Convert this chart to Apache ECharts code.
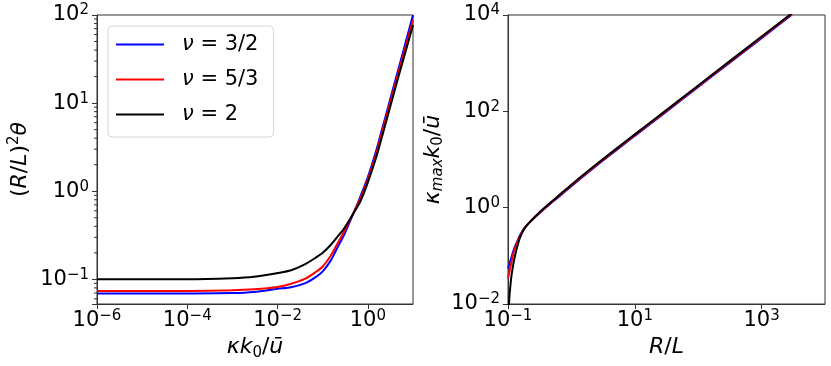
<!DOCTYPE html>
<html><head><meta charset="utf-8">
<script src="https://cdn.jsdelivr.net/npm/echarts@6/dist/echarts.min.js"></script>
<style>html,body{margin:0;padding:0;background:#fff}#c{width:831px;height:366px}</style>
</head><body><div id="c"></div>
<script>
// ---- data ----
const seriesNames = ['ν = 3/2', 'ν = 5/3', 'ν = 2'];

// left panel: (R/L)^2 θ vs κ k0 / ū
const leftX = [1e-6, 1e-5, 1e-4, 1e-3, 3e-3, 1e-2, 2e-2, 4e-2, 7e-2, 0.1, 0.15, 0.2, 0.3, 0.5, 0.7, 1, 1.5, 2, 3, 5, 7, 10];
const leftBlue  = [0.069, 0.069, 0.0692, 0.070, 0.072, 0.078, 0.0815, 0.090, 0.106, 0.123, 0.163, 0.217, 0.323, 0.59, 0.90, 1.45, 2.79, 4.75, 10.2, 26.8, 50.6, 100];
const leftRed   = [0.0735, 0.0735, 0.0737, 0.075, 0.077, 0.082, 0.089, 0.101, 0.121, 0.140, 0.185, 0.241, 0.351, 0.594, 0.85, 1.36, 2.58, 4.4, 9.4, 24.3, 45.4, 88];
const leftBlack = [0.1, 0.1, 0.1, 0.103, 0.107, 0.118, 0.127, 0.148, 0.176, 0.20, 0.245, 0.293, 0.38, 0.58, 0.79, 1.26, 2.35, 3.95, 8.4, 21.8, 40, 77];

// right panel: κ_max k0 / ū vs R/L
const rightX = [0.1, 0.1035, 0.105, 0.108, 0.113, 0.12, 0.128, 0.14, 0.153, 0.18, 0.22, 0.3, 0.455, 0.7, 1, 2, 2.81, 5, 10, 30, 100, 300, 1000, 3000];
const rightBlue  = [0.055, 0.063, 0.067, 0.076, 0.092, 0.12, 0.153, 0.20, 0.26, 0.37, 0.495, 0.73, 1.18, 1.88, 2.8, 5.9, 8.43, 15.3, 31, 94, 320, 977, 3315, 10110];
const rightRed   = [0.034, 0.042, 0.046, 0.055, 0.072, 0.105, 0.14, 0.19, 0.25, 0.37, 0.50, 0.74, 1.2, 1.95, 2.9, 6.12, 8.74, 15.8, 32.1, 97.5, 332, 1013, 3440, 10490];
const rightBlack = [null, 0.0095, 0.0135, 0.021, 0.037, 0.062, 0.096, 0.155, 0.23, 0.36, 0.50, 0.76, 1.23, 2.01, 3.0, 6.34, 9.06, 16.4, 33.3, 101, 344, 1050, 3565, 10870];

// axis ranges and minor tick values (left y axis)
const leftXRange = [1e-6, 10];
const leftYRange = [0.0525, 100];
const rightXRange = [0.1, 1e4];
const rightYRange = [1e-2, 1e4];
const leftYMinorTicks = [0.06, 0.07, 0.08, 0.09, 0.2, 0.3, 0.4, 0.5, 0.6, 0.7, 0.8, 0.9, 2, 3, 4, 5, 6, 7, 8, 9, 20, 30, 40, 50, 60, 70, 80, 90];

// ---- helpers ----
const FONT = 'DejaVu Sans';
const INK = '#333333';
function pairs(xs, ys) { return xs.map((x, i) => [x, ys[i]]); }
function powLabel(v) {
  const e = Math.log10(v), r = Math.round(e);
  if (Math.abs(e - r) > 1e-6) return '';
  return '{b|10}{s|' + (r < 0 ? '\u2212' + (-r) : String(r)) + '}';
}
const tickRich = {
  b: { fontFamily: FONT, fontSize: 21, color: '#000', lineHeight: 24 },
  s: { fontFamily: FONT, fontSize: 15, color: '#000', lineHeight: 8, verticalAlign: 'top' }
};
const nameRich = {
  t: { fontFamily: FONT, fontSize: 22, color: '#000', lineHeight: 26 },
  i: { fontFamily: FONT, fontSize: 22, fontStyle: 'italic', color: '#000', lineHeight: 26 },
  sup: { fontFamily: FONT, fontSize: 15, color: '#000', lineHeight: 10, verticalAlign: 'top' },
  sub: { fontFamily: FONT, fontSize: 15, color: '#000', lineHeight: 12, verticalAlign: 'bottom' },
  subi: { fontFamily: FONT, fontSize: 15, fontStyle: 'italic', color: '#000', lineHeight: 12, verticalAlign: 'bottom' }
};
function logAxis(gridIndex, range, extra) {
  return Object.assign({
    type: 'log', logBase: 10, gridIndex: gridIndex, min: range[0], max: range[1],
    splitLine: { show: false },
    axisLine: { show: true, lineStyle: { color: INK, width: 1 } },
    axisTick: { show: true, inside: false, length: 5, lineStyle: { color: INK, width: 1 } },
    axisLabel: { formatter: powLabel, rich: tickRich, margin: 8 },
    nameLocation: 'middle',
    nameTextStyle: { rich: nameRich }
  }, extra);
}
function line(name, color, data, xi, yi) {
  return {
    type: 'line', name: name, data: data, xAxisIndex: xi, yAxisIndex: yi,
    showSymbol: false, smooth: 0.3,
    lineStyle: { color: color, width: 2 }, itemStyle: { color: color },
    clip: true, z: 3
  };
}

const chart = echarts.init(document.getElementById('c'), null, { renderer: 'canvas' });
chart.setOption({
  animation: false,
  backgroundColor: '#fff',
  grid: [
    { left: 97, top: 15, width: 316, height: 289, show: true, borderColor: INK, borderWidth: 1, backgroundColor: 'transparent' },
    { left: 508, top: 15, width: 317, height: 289, show: true, borderColor: INK, borderWidth: 1, backgroundColor: 'transparent' }
  ],
  xAxis: [
    logAxis(0, leftXRange, { interval: 2, name: '{i|κk}{sub|0}{t|/}{i|ū}', nameGap: 30,
      axisLabel: { formatter: powLabel, rich: tickRich, margin: 5, showMaxLabel: false } }),
    logAxis(1, rightXRange, { interval: 2, name: '{i|R}{t|/}{i|L}', nameGap: 30,
      axisLabel: { formatter: powLabel, rich: tickRich, margin: 5, showMaxLabel: false } })
  ],
  yAxis: [
    logAxis(0, leftYRange, { name: '{t|(}{i|R}{t|/}{i|L}{t|)}{sup|2}{i|θ}', nameGap: 64 }),
    logAxis(1, rightYRange, { interval: 2, name: '{i|κ}{subi|max}{i|k}{sub|0}{t|/}{i|ū}', nameGap: 62 })
  ],
  legend: {
    data: seriesNames,
    orient: 'vertical', left: 108, top: 26,
    backgroundColor: '#fff', borderColor: '#d6d6d6', borderWidth: 1, borderRadius: 4,
    padding: [8, 15, 12, 8], itemGap: 14, itemWidth: 48, itemHeight: 2, icon: 'rect',
    formatter: function (n) { return '{g|' + n.charAt(0) + '}{t|' + n.slice(1) + '}'; },
    textStyle: {
      rich: {
        g: { fontFamily: FONT, fontSize: 21, fontStyle: 'italic', color: '#000', lineHeight: 24, padding: [0, 0, 0, 13] },
        t: { fontFamily: FONT, fontSize: 21, color: '#000', lineHeight: 24 }
      }
    }
  },
  series: [
    line(seriesNames[0], '#0000ff', pairs(leftX, leftBlue), 0, 0),
    line(seriesNames[1], '#ff0000', pairs(leftX, leftRed), 0, 0),
    line(seriesNames[2], '#000000', pairs(leftX, leftBlack), 0, 0),
    line(seriesNames[0], '#0000ff', pairs(rightX, rightBlue), 1, 1),
    line(seriesNames[1], '#ff0000', pairs(rightX, rightRed), 1, 1),
    line(seriesNames[2], '#000000', pairs(rightX, rightBlack), 1, 1),
    {
      type: 'custom', xAxisIndex: 0, yAxisIndex: 0, silent: true, clip: false, z: 4,
      data: leftYMinorTicks.map(v => [leftXRange[0], v]),
      renderItem: function (params, api) {
        const p = api.coord([api.value(0), api.value(1)]);
        return { type: 'line', shape: { x1: p[0] - 3, y1: p[1], x2: p[0], y2: p[1] },
                 style: { stroke: INK, lineWidth: 1 } };
      }
    }
  ]
});
</script>
</body></html>
